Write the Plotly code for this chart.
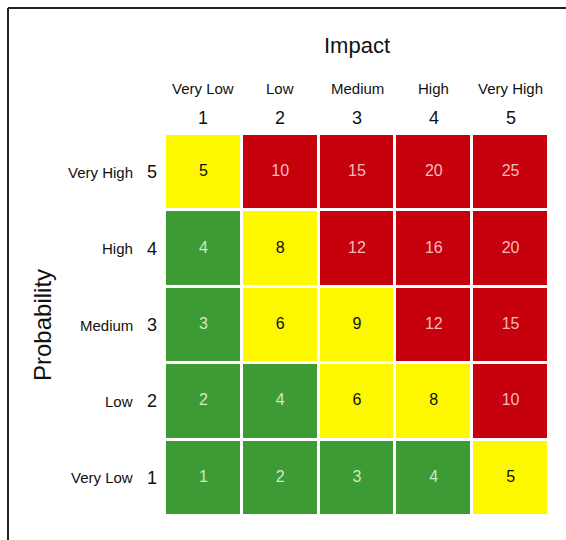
import plotly.graph_objects as go

# Risk matrix: probability (rows, 1..5) x impact (columns, 1..5)
impact_labels = ["Very Low", "Low", "Medium", "High", "Very High"]
probability_labels = ["Very Low", "Low", "Medium", "High", "Very High"]
impact_levels = [1, 2, 3, 4, 5]
probability_levels = [1, 2, 3, 4, 5]

# Risk scores, one row per probability level (1 at the bottom)
scores = [
    [1, 2, 3, 4, 5],
    [2, 4, 6, 8, 10],
    [3, 6, 9, 12, 15],
    [4, 8, 12, 16, 20],
    [5, 10, 15, 20, 25],
]

# Risk rating per cell: 0 = low (green), 1 = medium (yellow), 2 = high (red)
ratings = [
    [0, 0, 0, 0, 1],
    [0, 0, 1, 1, 2],
    [0, 1, 1, 2, 2],
    [0, 1, 2, 2, 2],
    [1, 2, 2, 2, 2],
]

GREEN = "#3d9b35"
YELLOW = "#fdf700"
RED = "#c6000c"
text_colors = ["#cfeac8", "#111111", "#f6bcbc"]

W, H = 566, 540
M_L, M_R, M_T, M_B = 165, 17, 134, 24
PW, PH = W - M_L - M_R, H - M_T - M_B


def px_x(px):
    return (px - M_L) / PW


def px_y(py):
    return (H - M_B - py) / PH


FONT = "'Liberation Sans Narrow', 'Liberation Sans', Arial, sans-serif"
CELL_FONT = "'Liberation Sans', Arial, sans-serif"

fig = go.Figure()

fig.add_trace(go.Heatmap(
    x=impact_levels,
    y=probability_levels,
    z=ratings,
    zmin=0,
    zmax=2,
    colorscale=[
        [0.0, GREEN], [0.3333, GREEN],
        [0.3333, YELLOW], [0.6667, YELLOW],
        [0.6667, RED], [1.0, RED],
    ],
    xgap=3,
    ygap=3,
    showscale=False,
    hoverinfo="skip",
))

# Score labels in each cell
cx, cy, ct, cc = [], [], [], []
for i, p in enumerate(probability_levels):
    for j, im in enumerate(impact_levels):
        cx.append(im)
        cy.append(p)
        ct.append(str(scores[i][j]))
        cc.append(text_colors[ratings[i][j]])

fig.add_trace(go.Scatter(
    x=cx, y=cy, text=ct, mode="text",
    textposition="middle center",
    textfont=dict(family=CELL_FONT, size=16, color=cc),
    hoverinfo="skip", showlegend=False,
))

annotations = []
# Column headers
for lab, lvl in zip(impact_labels, impact_levels):
    annotations.append(dict(x=lvl, y=px_y(88), xref="x", yref="paper", text=lab,
                            showarrow=False, xanchor="center", yanchor="middle",
                            font=dict(family=FONT, size=15, color="#111")))
    annotations.append(dict(x=lvl, y=px_y(118), xref="x", yref="paper", text=str(lvl),
                            showarrow=False, xanchor="center", yanchor="middle",
                            font=dict(family=FONT, size=18, color="#111")))
# Row headers
for lab, lvl in zip(probability_labels, probability_levels):
    annotations.append(dict(x=px_x(135), y=lvl, xref="paper", yref="y", text=lab,
                            showarrow=False, xanchor="right", yanchor="middle",
                            font=dict(family=FONT, size=15, color="#111")))
    annotations.append(dict(x=px_x(152), y=lvl, xref="paper", yref="y", text=str(lvl),
                            showarrow=False, xanchor="center", yanchor="middle",
                            font=dict(family=FONT, size=18, color="#111")))
# Axis titles
annotations.append(dict(x=3, y=px_y(46), xref="x", yref="paper", text="Impact",
                        showarrow=False, xanchor="center", yanchor="middle",
                        font=dict(family=FONT, size=22, color="#111")))
annotations.append(dict(x=px_x(42), y=px_y(325), xref="paper", yref="paper",
                        text="Probability", textangle=-90,
                        showarrow=False, xanchor="center", yanchor="middle",
                        font=dict(family=FONT, size=24, color="#111")))

shapes = [
    dict(type="line", xref="paper", yref="paper",
         x0=px_x(8), x1=px_x(566), y0=px_y(8), y1=px_y(8),
         line=dict(color="#222", width=2)),
    dict(type="line", xref="paper", yref="paper",
         x0=px_x(8), x1=px_x(8), y0=px_y(8), y1=px_y(540),
         line=dict(color="#222", width=2)),
]

fig.update_layout(
    width=W, height=H,
    margin=dict(l=M_L, r=M_R, t=M_T, b=M_B, pad=0),
    paper_bgcolor="white",
    plot_bgcolor="white",
    xaxis=dict(range=[0.5, 5.5], showticklabels=False, showgrid=False,
               zeroline=False, ticks="", fixedrange=True),
    yaxis=dict(range=[0.5, 5.5], showticklabels=False, showgrid=False,
               zeroline=False, ticks="", fixedrange=True),
    annotations=annotations,
    shapes=shapes,
    showlegend=False,
)

fig.write_html("out.html")
